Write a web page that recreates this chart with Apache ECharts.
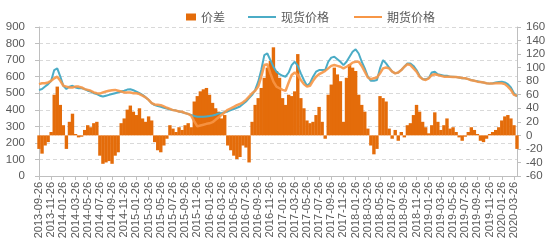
<!DOCTYPE html>
<html>
<head>
<meta charset="utf-8">
<script src="https://cdn.jsdelivr.net/npm/echarts@6/dist/echarts.min.js"></script>
<style>
html,body{margin:0;padding:0;background:#fff;}
#chart{width:550px;height:249px;}
</style>
</head>
<body>
<div id="chart"></div>
<script>
// Categories: semi-monthly dates from 2013-09-26 to 2020-04-11
var dates = ['2013-09-26'];
(function(){
  var y = 2013, m = 10;
  while (y < 2020 || (y === 2020 && m <= 4)) {
    var mm = (m < 10 ? '0' : '') + m;
    dates.push(y + '-' + mm + '-11');
    if (!(y === 2020 && m === 4)) dates.push(y + '-' + mm + '-26');
    m++; if (m > 12) { m = 1; y++; }
  }
})();

var seriesNames = ['价差', '现货价格', '期货价格'];

// 现货价格 (left axis)
var spot = [
  520,525,540,555,575,640,650,600,545,525,
  540,545,535,530,530,525,515,510,500,495,
  485,480,485,490,495,500,505,510,515,522,
  524,518,510,500,490,475,460,440,428,422,
  418,412,408,402,398,395,390,385,380,375,
  368,362,358,358,358,360,362,365,370,378,
  380,385,390,398,405,412,420,435,450,470,
  490,520,570,640,730,740,700,660,630,615,
  605,600,625,670,690,665,620,580,545,560,
  600,630,640,640,640,690,715,720,705,690,
  670,690,720,750,765,740,690,650,600,575,
  575,580,650,700,680,655,630,620,625,640,
  660,680,680,665,640,605,585,585,590,625,
  630,615,610,605,605,600,600,598,595,590,
  590,585,580,575,572,568,565,560,558,560,
  565,568,570,565,555,535,500,480
];

// 期货价格 (left axis)
var futures = [
  555,560,560,565,575,590,600,575,545,540,
  535,535,540,540,535,525,520,515,505,500,
  498,505,510,515,518,520,515,510,505,505,
  505,500,500,495,485,475,460,440,432,430,
  428,420,412,405,398,395,390,388,380,375,
  365,330,300,305,310,315,318,325,340,355,
  370,385,400,408,418,428,435,445,460,480,
  500,515,540,600,670,675,620,570,540,530,
  520,515,565,610,625,610,580,555,540,545,
  575,600,615,625,635,650,665,670,665,660,
  650,660,670,685,690,690,665,630,595,585,
  590,595,620,650,655,650,630,620,625,640,
  660,675,670,650,630,600,585,580,590,610,
  615,610,605,600,600,600,598,598,595,592,
  590,585,578,575,570,568,565,560,558,558,
  560,562,560,555,540,520,490,485
];

// 价差 (right axis)
var basis = [
  -20,-27,-15,-10,5,60,72,45,15,-20,
  20,32,2,-3,-2,8,15,12,18,20,
  -30,-42,-40,-38,-42,-30,-25,18,25,38,
  44,35,30,40,25,20,28,22,-10,-22,
  -25,-15,-5,15,10,5,12,8,15,18,
  12,50,58,65,68,70,60,48,40,35,
  25,30,-15,-22,-30,-35,-32,-15,-18,-40,
  20,45,55,70,85,100,110,130,95,85,
  55,45,60,58,65,120,55,40,22,18,
  20,30,42,20,-5,60,75,100,90,80,
  20,85,105,100,95,60,45,35,10,-15,
  -28,-20,58,55,50,10,-5,8,-8,5,
  -3,15,18,30,45,35,20,12,3,15,
  34,20,8,15,25,10,12,5,-3,-8,
  -2,5,12,8,2,-8,-10,-5,2,5,
  8,12,22,28,30,25,15,-20
];

var chart = echarts.init(document.getElementById('chart'), null, {renderer: 'canvas'});
var axisColor = '#BFBFBF';
var textColor = '#595959';
var font = 'Liberation Sans';
chart.setOption({
  animation: false,
  backgroundColor: '#ffffff',
  legend: [
    {
      data: [seriesNames[0]], left: 181, top: 6,
      itemWidth: 10, itemHeight: 7, icon: 'rect',
      textStyle: {color: textColor, fontSize: 12, fontFamily: 'Noto Sans CJK SC'}
    },
    {
      data: [seriesNames[1], seriesNames[2]], left: 243, top: 6,
      itemWidth: 28, itemHeight: 2, icon: 'rect', itemGap: 25,
      textStyle: {color: textColor, fontSize: 12, fontFamily: 'Noto Sans CJK SC'}
    }
  ],
  grid: {left: 39, right: 33, top: 27, bottom: 73, containLabel: false},
  xAxis: {
    type: 'category', data: dates, boundaryGap: false,
    axisLine: {lineStyle: {color: axisColor}},
    axisTick: {interval: 3, length: 4, lineStyle: {color: axisColor}},
    axisLabel: {interval: 3, rotate: 90, fontSize: 11, color: textColor, fontFamily: font, margin: 6},
    splitLine: {show: false}
  },
  yAxis: [
    {
      type: 'value', min: 0, max: 900, interval: 100,
      axisLine: {show: true, lineStyle: {color: axisColor}},
      axisTick: {show: true, length: 4, lineStyle: {color: axisColor}},
      splitLine: {show: true, lineStyle: {type: [4, 3], color: '#D9D9D9'}},
      axisLabel: {fontSize: 11.5, color: textColor, fontFamily: font, margin: 14}
    },
    {
      type: 'value', min: -60, max: 160, interval: 20, position: 'right',
      axisLine: {show: true, lineStyle: {color: axisColor}},
      axisTick: {show: true, length: 4, lineStyle: {color: axisColor}},
      splitLine: {show: false},
      axisLabel: {fontSize: 11.5, color: textColor, fontFamily: font, margin: 9, align: 'left'}
    }
  ],
  series: [
    {
      name: seriesNames[0], type: 'bar', yAxisIndex: 1, data: basis,
      barWidth: 3.4, itemStyle: {color: '#E46C0A'}
    },
    {
      name: seriesNames[1], type: 'line', yAxisIndex: 0, data: spot,
      symbol: 'none', lineStyle: {color: '#4BACC6', width: 2}, itemStyle: {color: '#4BACC6'}
    },
    {
      name: seriesNames[2], type: 'line', yAxisIndex: 0, data: futures,
      symbol: 'none', lineStyle: {color: '#F79646', width: 2.5, opacity: 0.9}, itemStyle: {color: '#F79646'}
    }
  ]
});
</script>
</body>
</html>
